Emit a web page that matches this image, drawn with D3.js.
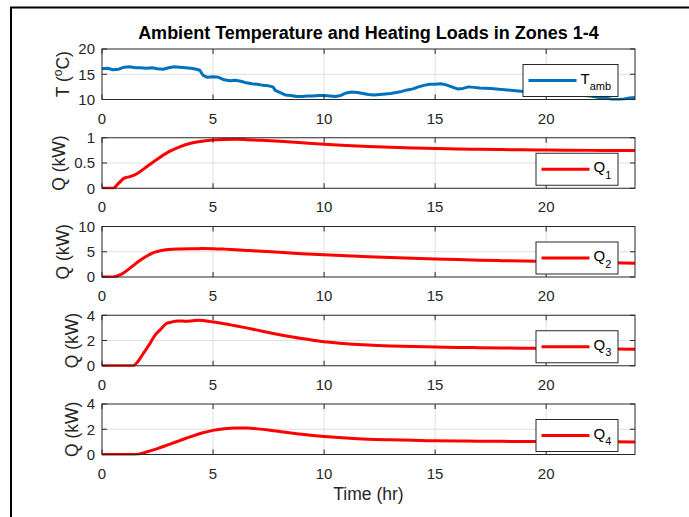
<!DOCTYPE html>
<html>
<head>
<meta charset="utf-8">
<script src="https://cdn.jsdelivr.net/npm/d3@7"></script>
<style>
  html, body { margin: 0; padding: 0; background: #fff; }
  svg { display: block; }
  text { font-family: "Liberation Sans", Arial, Helvetica, sans-serif; }
</style>
</head>
<body>
<script>
// Ambient temperature (°C) over the day
const tAmbHours = [0,0.25,0.5,0.75,1,1.25,1.5,1.75,2,2.25,2.5,2.75,3,3.25,3.5,3.75,4,4.25,4.4,4.55,4.75,5,5.25,5.5,5.75,6,6.25,6.5,6.75,7,7.25,7.5,7.7,7.8,8,8.25,8.5,8.75,9,9.25,9.5,9.75,10,10.25,10.5,10.75,11,11.25,11.5,11.75,12,12.25,12.5,12.75,13,13.25,13.5,13.75,14,14.25,14.5,14.75,15,15.25,15.5,15.75,16,16.25,16.5,16.75,17,17.5,18,18.25,18.5,19,19.5,20,20.5,21,21.5,22,22.25,22.5,22.75,23,23.25,23.5,23.75,24];
const tAmb = [16.1,16.2,15.9,16.0,16.4,16.5,16.3,16.3,16.2,16.3,16.1,16.0,16.3,16.5,16.4,16.3,16.2,16.0,15.8,14.8,14.4,14.5,14.4,13.9,13.7,13.8,13.6,13.3,13.1,13.0,12.8,12.7,12.5,11.8,11.4,10.9,10.8,10.6,10.6,10.7,10.7,10.8,10.8,10.7,10.6,10.8,11.3,11.5,11.4,11.2,11.0,10.9,11.0,11.1,11.2,11.4,11.6,11.9,12.1,12.5,12.8,13.0,13.0,13.1,12.9,12.5,12.1,12.2,12.5,12.4,12.3,12.2,12.0,11.9,11.8,11.6,11.5,11.4,11.2,11.0,10.9,10.7,10.5,10.3,10.2,10.0,10.0,10.1,10.3,10.4];

// Zone heating loads (kW)
const q1Hours = [0,0.5,0.75,1,1.25,1.5,1.75,2,2.5,3,3.5,4,4.5,5,5.5,6,6.5,7,8,9,10,11,12,13,14,15,16,17,18,19,20,21,22,23,24];
const q1 = [0,0,0.1,0.2,0.23,0.27,0.34,0.42,0.58,0.72,0.82,0.89,0.93,0.955,0.965,0.968,0.962,0.952,0.93,0.9,0.87,0.845,0.825,0.81,0.797,0.787,0.778,0.772,0.766,0.761,0.757,0.753,0.75,0.748,0.746];

const q2Hours = [0,0.5,0.75,1,1.25,1.5,1.75,2,2.25,2.5,2.75,3,3.5,4,4.5,5,5.5,6,6.5,7,8,9,10,11,12,13,14,15,16,17,18,19,20,21,22,23,24];
const q2 = [0,0,0.3,0.9,1.7,2.6,3.4,4.1,4.7,5.05,5.3,5.45,5.55,5.6,5.62,5.6,5.52,5.4,5.27,5.13,4.88,4.62,4.4,4.2,4.02,3.85,3.7,3.57,3.45,3.34,3.24,3.15,3.06,2.97,2.89,2.81,2.73];

const q3Hours = [0,1.4,1.6,1.85,2.1,2.4,2.65,2.9,3.1,3.4,3.8,4.1,4.4,4.7,5,5.5,6,6.5,7,7.5,8,8.5,9,9.5,10,10.5,11,11.5,12,13,14,15,16,17,18,19,20,21,22,23,24];
const q3 = [0,0,0.3,0.95,1.6,2.45,2.9,3.35,3.45,3.55,3.52,3.57,3.6,3.55,3.47,3.33,3.17,3.0,2.82,2.63,2.46,2.3,2.15,2.02,1.91,1.82,1.75,1.69,1.64,1.57,1.52,1.48,1.45,1.43,1.41,1.39,1.37,1.36,1.34,1.33,1.31];

const q4Hours = [0,1.4,1.7,2,2.5,3,3.5,4,4.5,5,5.5,6,6.5,7,7.5,8,8.5,9,9.5,10,10.5,11,11.5,12,13,14,15,16,17,18,19,20,21,22,23,24];
const q4 = [0,0,0.05,0.2,0.47,0.78,1.1,1.42,1.7,1.91,2.04,2.1,2.09,2.03,1.94,1.82,1.7,1.6,1.51,1.43,1.36,1.3,1.25,1.21,1.16,1.12,1.09,1.07,1.05,1.04,1.03,1.02,1.015,1.01,1.005,1.0];

// Axis ticks
const xTicks = [0, 5, 10, 15, 20];
const tAmbTicks = [10, 15, 20];
const q1Ticks = [0, 0.5, 1];
const q2Ticks = [0, 5, 10];
const q3Ticks = [0, 2, 4];
const q4Ticks = [0, 2, 4];

const titleText = "Ambient Temperature and Heating Loads in Zones 1-4";
const xLabel = "Time (hr)";

const panels = [
  { hours: tAmbHours, values: tAmb, domain: [10, 20], ticks: tAmbTicks, color: "#0072BD", curve: d3.curveLinear,
    ylabel: "temp", legendMain: "T", legendSub: "amb", legendWidth: 95 },
  { hours: q1Hours, values: q1, domain: [0, 1], ticks: q1Ticks, color: "#FF0000", curve: d3.curveMonotoneX,
    ylabel: "Q (kW)", legendMain: "Q", legendSub: "1", legendWidth: 82 },
  { hours: q2Hours, values: q2, domain: [0, 10], ticks: q2Ticks, color: "#FF0000", curve: d3.curveMonotoneX,
    ylabel: "Q (kW)", legendMain: "Q", legendSub: "2", legendWidth: 82 },
  { hours: q3Hours, values: q3, domain: [0, 4], ticks: q3Ticks, color: "#FF0000", curve: d3.curveMonotoneX,
    ylabel: "Q (kW)", legendMain: "Q", legendSub: "3", legendWidth: 82 },
  { hours: q4Hours, values: q4, domain: [0, 4], ticks: q4Ticks, color: "#FF0000", curve: d3.curveMonotoneX,
    ylabel: "Q (kW)", legendMain: "Q", legendSub: "4", legendWidth: 82 }
];

// Layout
const W = 689, H = 517;
const left = 102, right = 635;
const firstTop = 49, step = 88.75, panelH = 50.5;
const axisColor = "#262626";
const gridColor = "#dfdfdf";
const tickLen = 5;
const tickFont = 15, labelFont = 17.5, titleFont = 18;

const svg = d3.select("body").append("svg")
  .attr("width", W).attr("height", H);

// figure frame
svg.append("rect")
  .attr("x", 11).attr("y", 7.5)
  .attr("width", W + 20).attr("height", H + 20)
  .attr("fill", "none").attr("stroke", "#000").attr("stroke-width", 2);

const x = d3.scaleLinear().domain([0, 24]).range([left, right]);

svg.append("text")
  .attr("x", (left + right) / 2).attr("y", 39)
  .attr("text-anchor", "middle")
  .attr("font-size", titleFont).attr("font-weight", "bold").attr("fill", "#000")
  .text(titleText);

panels.forEach((p, i) => {
  const top = firstTop + i * step;
  const bottom = top + panelH;
  const y = d3.scaleLinear().domain(p.domain).range([bottom, top]);
  const g = svg.append("g");

  // grid
  g.selectAll(".gx").data(xTicks.filter(t => t > 0)).enter().append("line")
    .attr("x1", d => x(d)).attr("x2", d => x(d))
    .attr("y1", top).attr("y2", bottom)
    .attr("stroke", gridColor).attr("stroke-width", 1);
  g.selectAll(".gy").data(p.ticks.filter((t, k) => k > 0 && k < p.ticks.length - 1)).enter().append("line")
    .attr("x1", left).attr("x2", right)
    .attr("y1", d => y(d)).attr("y2", d => y(d))
    .attr("stroke", gridColor).attr("stroke-width", 1);

  // data line, clipped to the plot box
  const clipId = "clip" + i;
  svg.append("clipPath").attr("id", clipId)
    .append("rect").attr("x", left).attr("y", top - 1).attr("width", right - left).attr("height", panelH + 2);
  const pts = p.hours.map((h, k) => [h, p.values[k]]);
  g.append("path")
    .datum(pts)
    .attr("clip-path", `url(#${clipId})`)
    .attr("fill", "none")
    .attr("stroke", p.color)
    .attr("stroke-width", 3)
    .attr("stroke-linejoin", "round")
    .attr("d", d3.line().x(d => x(d[0])).y(d => y(d[1])).curve(p.curve));

  // box
  g.append("rect")
    .attr("x", left).attr("y", top)
    .attr("width", right - left).attr("height", panelH)
    .attr("fill", "none").attr("stroke", axisColor).attr("stroke-width", 1);

  // inward ticks on all four sides
  xTicks.forEach(t => {
    g.append("line").attr("x1", x(t)).attr("x2", x(t)).attr("y1", bottom).attr("y2", bottom - tickLen)
      .attr("stroke", axisColor);
    g.append("line").attr("x1", x(t)).attr("x2", x(t)).attr("y1", top).attr("y2", top + tickLen)
      .attr("stroke", axisColor);
  });
  p.ticks.forEach(t => {
    g.append("line").attr("x1", left).attr("x2", left + tickLen).attr("y1", y(t)).attr("y2", y(t))
      .attr("stroke", axisColor);
    g.append("line").attr("x1", right).attr("x2", right - tickLen).attr("y1", y(t)).attr("y2", y(t))
      .attr("stroke", axisColor);
  });

  // tick labels
  g.selectAll(".xl").data(xTicks).enter().append("text")
    .attr("x", d => x(d)).attr("y", bottom + 24)
    .attr("text-anchor", "middle").attr("font-size", tickFont).attr("fill", axisColor)
    .text(d => d);
  const yLabels = g.selectAll(".yl").data(p.ticks).enter().append("text")
    .attr("x", left - 7).attr("y", d => y(d))
    .attr("dy", "0.36em")
    .attr("text-anchor", "end").attr("font-size", tickFont).attr("fill", axisColor)
    .text(d => d);
  const maxW = d3.max(yLabels.nodes(), n => n.getComputedTextLength());

  // y label sits just outside the widest tick label
  const baseX = left - 7 - maxW - 9;
  const yl = g.append("text")
    .attr("transform", `translate(${baseX},${(top + bottom) / 2}) rotate(-90)`)
    .attr("text-anchor", "middle").attr("font-size", labelFont).attr("fill", axisColor);
  if (p.ylabel === "temp") {
    yl.append("tspan").text("T (");
    yl.append("tspan").attr("font-size", 12).attr("dy", -7).text("o");
    yl.append("tspan").attr("dy", 7).text("C)");
  } else {
    yl.text(p.ylabel);
  }

  // legend
  const lw = p.legendWidth, lh = 32;
  const lx = 618 - lw, ly = top + 15.5;
  const cy = ly + lh / 2;
  g.append("rect").attr("x", lx).attr("y", ly).attr("width", lw).attr("height", lh)
    .attr("fill", "#fff").attr("stroke", axisColor).attr("stroke-width", 1);
  g.append("line").attr("x1", lx + 5.5).attr("x2", lx + 53.5).attr("y1", cy).attr("y2", cy)
    .attr("stroke", p.color).attr("stroke-width", 3);
  const lt = g.append("text").attr("x", lx + 57.5).attr("y", cy + 3)
    .attr("font-size", 15).attr("fill", "#000");
  lt.append("tspan").text(p.legendMain);
  lt.append("tspan").attr("font-size", 11).attr("dy", 6.5).text(p.legendSub);
});

svg.append("text")
  .attr("x", (left + right) / 2).attr("y", 500)
  .attr("text-anchor", "middle").attr("font-size", labelFont).attr("fill", axisColor)
  .text(xLabel);
</script>
</body>
</html>
